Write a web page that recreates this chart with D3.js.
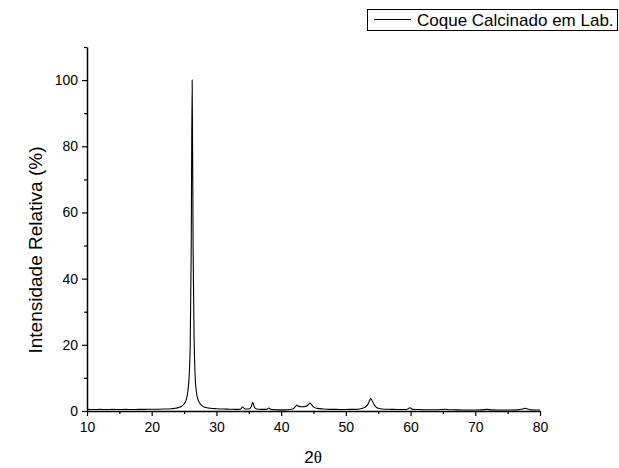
<!DOCTYPE html>
<html>
<head>
<meta charset="utf-8">
<script src="https://cdn.jsdelivr.net/npm/d3@7"></script>
<style>
    body { margin: 0; background: #fff; }
    text { font-family: Arial, "Liberation Sans", sans-serif; fill: #000; }
</style>
</head>
<body>
<div id="chart"></div>
<script>
// 2theta positions
var twoTheta = [
    10, 11, 12, 13, 14, 15, 16, 17, 18, 19, 20, 21, 22, 23, 23.5, 24, 24.5,
    25.0, 25.3, 25.6, 25.8, 25.95, 26.1, 26.25, 26.4, 26.55, 26.7, 26.9, 27.2, 27.6,
    28.0, 28.5, 29, 30, 31, 32, 33, 33.7, 34.05, 34.4, 35.0, 35.35, 35.6, 35.85,
    36.2, 37, 37.8, 38.1, 38.4, 39, 40, 41, 41.8, 42.2, 42.45, 42.7, 43.2, 43.8,
    44.2, 44.45, 44.7, 45.1, 45.6, 46.5, 47.5, 48.5, 49.5, 50.5, 51.5, 52.3, 52.9,
    53.4, 53.7, 53.85, 54.05, 54.4, 54.8, 55.3, 56, 57, 58, 59.4, 59.9, 60.3, 61,
    62, 63, 64, 65.3, 66, 67, 68, 69, 70, 71, 71.8, 72.5, 73.5, 74.5, 75.5, 76.5,
    77.3, 77.7, 78.1, 78.6, 79.3, 80
];
// relative intensity (%)
var intensity = [
    0.5, 0.45, 0.5, 0.45, 0.5, 0.45, 0.5, 0.45, 0.5, 0.5, 0.55, 0.55, 0.6, 0.7, 0.8, 0.95, 1.3,
    2.1, 3.2, 6.2, 11, 20, 48, 100, 48, 22, 11, 5.8, 3.2, 1.9,
    1.3, 1.0, 0.85, 0.7, 0.6, 0.55, 0.5, 0.55, 1.2, 0.6, 0.6, 1.2, 2.6, 1.2,
    0.6, 0.5, 0.5, 0.9, 0.5, 0.4, 0.35, 0.4, 0.6, 1.3, 1.8, 1.4, 1.3, 1.4,
    1.9, 2.4, 1.9, 1.1, 0.8, 0.6, 0.5, 0.5, 0.45, 0.5, 0.5, 0.7, 1.1,
    2.0, 3.3, 3.8, 3.2, 1.8, 1.0, 0.7, 0.55, 0.5, 0.45, 0.45, 1.0, 0.5, 0.45,
    0.4, 0.4, 0.4, 0.55, 0.4, 0.35, 0.3, 0.3, 0.3, 0.35, 0.5, 0.35, 0.3, 0.3, 0.3, 0.35,
    0.6, 0.85, 0.6, 0.35, 0.3, 0.3
];
var xTicks = [10, 20, 30, 40, 50, 60, 70, 80];
var yTicks = [0, 20, 40, 60, 80, 100];
var seriesName = "Coque Calcinado em Lab.";

var width = 619, height = 468;
var margin = { top: 47, right: 79, bottom: 57, left: 87 };

var svg = d3.select("#chart")
    .append("svg")
    .attr("width", width)
    .attr("height", height);

var xscale = d3.scaleLinear()
    .domain([10, 80])
    .range([margin.left, width - margin.right]);
var yscale = d3.scaleLinear()
    .domain([0, 110])
    .range([height - margin.bottom, margin.top]);

var points = twoTheta.map(function (t, i) { return [t, intensity[i]]; });

// minor ticks first so the major ticks draw on top
svg.append("g")
    .attr("transform", "translate(0," + yscale(0) + ")")
    .call(d3.axisBottom(xscale).tickValues(d3.range(15, 80, 10)).tickSize(3).tickFormat(""))
    .call(function (g) { g.select(".domain").remove(); });
svg.append("g")
    .attr("transform", "translate(" + xscale(10) + ",0)")
    .call(d3.axisLeft(yscale).tickValues(d3.range(10, 111, 20)).tickSize(3).tickFormat(""))
    .call(function (g) { g.select(".domain").remove(); });

var xAxis = svg.append("g")
    .attr("transform", "translate(0," + yscale(0) + ")")
    .call(d3.axisBottom(xscale).tickValues(xTicks).tickSize(5).tickSizeOuter(0).tickPadding(6));
var yAxis = svg.append("g")
    .attr("transform", "translate(" + xscale(10) + ",0)")
    .call(d3.axisLeft(yscale).tickValues(yTicks).tickSize(5).tickSizeOuter(0).tickPadding(4));

svg.selectAll(".domain").attr("stroke", "#000").attr("stroke-width", 1.5);
svg.selectAll(".tick line").attr("stroke", "#000").attr("stroke-width", 1.2);
svg.selectAll(".tick text").style("font-size", "14px");

svg.append("path")
    .datum(points)
    .attr("fill", "none")
    .attr("stroke", "#000")
    .attr("stroke-width", 1.1)
    .attr("d", d3.line()
        .x(function (d) { return xscale(d[0]); })
        .y(function (d) { return yscale(d[1]); })
        .curve(d3.curveMonotoneX));

// axis titles
var xTitle = svg.append("text")
    .attr("x", 313)
    .attr("y", 463)
    .attr("text-anchor", "middle")
    .style("font-size", "17px");
xTitle.append("tspan").text("2");
xTitle.append("tspan").style("font-family", "'Liberation Serif', 'DejaVu Serif', serif").text("\u03b8");

svg.append("text")
    .attr("transform", "translate(42,250) rotate(-90)")
    .attr("text-anchor", "middle")
    .style("font-size", "19px")
    .text("Intensidade Relativa (%)");

// legend
var legend = svg.append("g");
legend.append("rect")
    .attr("x", 367.5).attr("y", 9.5)
    .attr("width", 250).attr("height", 21)
    .attr("fill", "#fff").attr("stroke", "#000").attr("stroke-width", 1);
legend.append("line")
    .attr("x1", 374).attr("x2", 411)
    .attr("y1", 19.5).attr("y2", 19.5)
    .attr("stroke", "#000").attr("stroke-width", 1.1);
legend.append("text")
    .attr("x", 417).attr("y", 26)
    .style("font-size", "17px")
    .text(seriesName);
</script>
</body>
</html>
